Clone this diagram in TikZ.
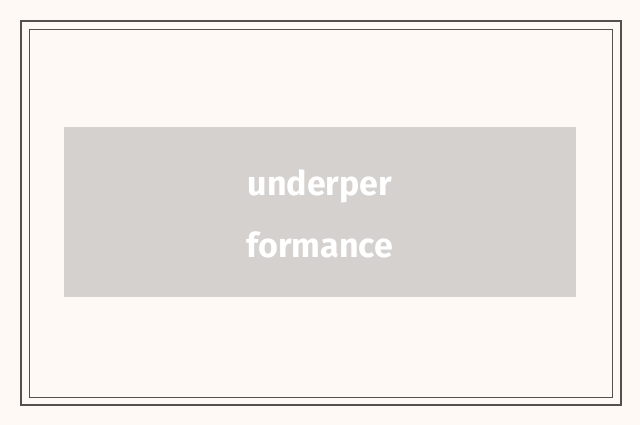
\documentclass[tikz,border=0pt]{standalone}
\usepackage{fontspec}
\setmainfont{Fira Sans}
\definecolor{bg}{HTML}{FFF9F6}
\definecolor{frame}{HTML}{555050}
\definecolor{boxc}{HTML}{D5D1CE}
\begin{document}
\begin{tikzpicture}[x=1pt,y=-1pt]
\fill[bg] (0,0) rectangle (640,425);
\useasboundingbox (0,0) rectangle (640,425);
\draw[frame,line width=1.5pt] (21,21) rectangle (621,405);
\draw[frame,line width=0.8pt] (29,29) rectangle (612,397);
\node[fill=boxc,minimum width=512pt,minimum height=170pt,inner sep=0pt] (box) at (320,212) {};
\node[text=white,font=\fontsize{34}{62}\selectfont\bfseries,align=center] (t) at (320,214) {underper\\formance};
\end{tikzpicture}
\end{document}
